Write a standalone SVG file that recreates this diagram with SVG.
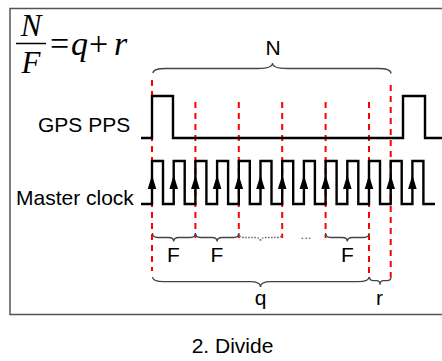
<svg xmlns="http://www.w3.org/2000/svg" width="442" height="361" viewBox="0 0 442 361">
<defs>
<style>
.lbl{font-family:"Liberation Sans",Arial,sans-serif;font-size:21px;fill:#000}
.math{font-family:"Liberation Serif","Times New Roman",serif;font-style:italic;fill:#000}
.sig{fill:none;stroke:#000;stroke-width:2.4;stroke-linejoin:miter}
.red{stroke:#ff0000;stroke-width:2;stroke-dasharray:6 5;fill:none}
.brace{fill:none;stroke:#444;stroke-width:1.3}
.dotted{fill:none;stroke:#666;stroke-width:1.3;stroke-dasharray:1.5 1.5}
.arr{fill:#000}
</style>
<path id="ar" d="M0,-7 L-4.3,7 L4.3,7 Z"/>
</defs>
<rect width="442" height="361" fill="#fff"/>
<path d="M442,8.5 H10 V314.5 H442" fill="none" stroke="#555" stroke-width="1.5"/>

<g id="formula">
<text class="math" x="31" y="35.5" font-size="31" text-anchor="middle">N</text>
<line x1="16" y1="43.5" x2="46" y2="43.5" stroke="#000" stroke-width="1.5"/>
<text class="math" x="31" y="73" font-size="31" text-anchor="middle">F</text>
<text class="math" y="55" font-size="34"><tspan x="50" font-style="normal">=</tspan><tspan x="71">q</tspan><tspan x="89" font-style="normal">+</tspan><tspan x="114">r</tspan></text>
</g>

<g id="markers">
<line class="red" x1="152" y1="80" x2="152" y2="271"/>
<line class="red" x1="195.4" y1="102" x2="195.4" y2="238"/>
<line class="red" x1="238.8" y1="102" x2="238.8" y2="238"/>
<line class="red" x1="282.2" y1="102" x2="282.2" y2="238"/>
<line class="red" x1="325.6" y1="102" x2="325.6" y2="238"/>
<line class="red" x1="369" y1="102" x2="369" y2="278"/>
<line class="red" x1="390.7" y1="85" x2="390.7" y2="277"/>
</g>

<g id="labels">
<text class="lbl" x="38" y="132">GPS PPS</text>
<text class="lbl" x="16" y="205">Master clock</text>
<text class="lbl" x="273" y="55" text-anchor="middle">N</text>
<text class="lbl" x="173.5" y="261.5" text-anchor="middle">F</text>
<text class="lbl" x="217" y="261.5" text-anchor="middle">F</text>
<text class="lbl" x="347.5" y="261.5" text-anchor="middle">F</text>
<text x="306" y="239" text-anchor="middle" font-family="Liberation Sans,Arial,sans-serif" font-size="13" fill="#555">...</text>
<text class="lbl" x="260.5" y="305" text-anchor="middle">q</text>
<text class="lbl" x="379.5" y="305" text-anchor="middle">r</text>
<text class="lbl" x="232.5" y="353" text-anchor="middle">2. Divide</text>
</g>

<g id="gps-pps">
<path class="sig" d="M141,138 H152 V96 H173 V138 H403 V96 H425 V138 H442"/>
</g>

<g id="master-clock">
<path class="sig" d="M141,204 H152 V161 H163 V204 H173.7 V161 H184.7 V204 H195.4 V161 H206.4 V204 H217.1 V161 H228.1 V204 H238.8 V161 H249.8 V204 H260.5 V161 H271.5 V204 H282.2 V161 H293.2 V204 H303.9 V161 H314.9 V204 H325.6 V161 H336.6 V204 H347.3 V161 H358.3 V204 H369 V161 H380 V204 H390.7 V161 H401.7 V204 H412.4 V161 H423.4 V204 H435"/>
<g class="arr">
<use href="#ar" x="152" y="182"/>
<use href="#ar" x="173.7" y="182"/>
<use href="#ar" x="195.4" y="182"/>
<use href="#ar" x="217.1" y="182"/>
<use href="#ar" x="238.8" y="182"/>
<use href="#ar" x="260.5" y="182"/>
<use href="#ar" x="282.2" y="182"/>
<use href="#ar" x="303.9" y="182"/>
<use href="#ar" x="325.6" y="182"/>
<use href="#ar" x="347.3" y="182"/>
<use href="#ar" x="369" y="182"/>
<use href="#ar" x="390.7" y="182"/>
<use href="#ar" x="412.4" y="182"/>
</g>
</g>

<g id="braces">
<path class="brace" d="M153,73 Q153,68.5 166,68.5 H258 C268,68.5 272.5,66 272.5,63 C272.5,66 277,68.5 287,68.5 H378 Q391,68.5 391,73.5"/>
<path class="brace" d="M152.5,233 Q152.5,237.5 157.5,237.5 H168.5 Q173.7,237.5 173.7,241.5 Q173.7,237.5 178.9,237.5 H190.4 Q195.4,237.5 195.4,233 Q195.4,237.5 200.4,237.5 H212 Q217.1,237.5 217.1,241.5 Q217.1,237.5 222.2,237.5 H233.8 Q238.8,237.5 238.8,233"/>
<path class="dotted" d="M238.8,233 Q238.8,237.5 243.8,237.5 H255.4 Q260.5,237.5 260.5,241.5 Q260.5,237.5 265.6,237.5 H277.2 Q282.2,237.5 282.2,233"/>
<path class="brace" d="M325.6,233 Q325.6,237.5 330.6,237.5 H342.2 Q347.3,237.5 347.3,241.5 Q347.3,237.5 352.4,237.5 H364 Q369,237.5 369,233"/>
<path class="brace" d="M152.5,277 Q152.5,281.7 164,281.7 H250 C257,281.7 260.5,284 260.5,287 C260.5,284 264,281.7 271,281.7 H358 Q369,281.7 369,277"/>
<path class="brace" d="M369.5,277 Q369.5,280.7 373.5,280.7 H376.5 Q380,280.7 380,284.7 Q380,280.7 383.5,280.7 H387 Q391,280.7 391,276.5"/>
</g>
</svg>
